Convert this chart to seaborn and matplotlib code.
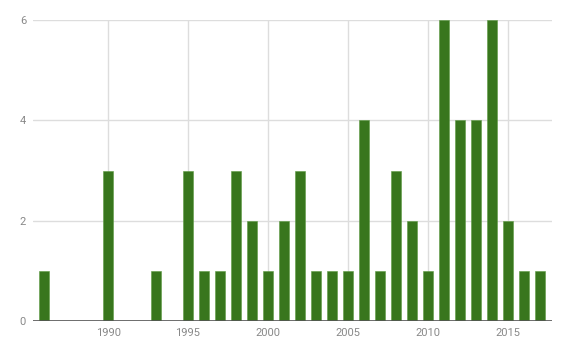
import pandas as pd
import numpy as np
import matplotlib.pyplot as plt
import seaborn as sns

years = list(range(1986, 2018))
counts = [1, 0, 0, 0, 3, 0, 0, 1, 0, 3, 1, 1, 3, 2, 1, 2,
          3, 1, 1, 1, 4, 1, 3, 2, 1, 6, 4, 4, 6, 2, 1, 1]
x_ticks = [1990, 1995, 2000, 2005, 2010, 2015]
y_ticks = [0, 2, 4, 6]

df = pd.DataFrame({'year': years, 'count': counts})

sns.set_style('white')
plt.rcParams['font.family'] = ['Roboto', 'DejaVu Sans']

fig = plt.figure(figsize=(5.71, 3.54), dpi=100)
ax = fig.add_axes([0.0578, 0.0932, 0.9089, 0.8503])

sns.barplot(data=df, x='year', y='count', native_scale=True, width=0.62,
            color='#38761d', saturation=1, edgecolor='#5d9a43', linewidth=0.4,
            ax=ax, zorder=3)

ax.set_xlim(1985.31, 2017.75)
ax.set_ylim(0, 6)
ax.set_xticks(x_ticks)
ax.set_xticklabels([str(t) for t in x_ticks])
ax.set_yticks(y_ticks)
ax.grid(True, color='#dddddd', linewidth=1, zorder=0)
ax.axhline(0, color='#555555', linewidth=1.2, zorder=4)
for s in ax.spines.values():
    s.set_visible(False)
ax.tick_params(length=0, labelsize=8, colors='#888888', pad=5)
ax.set_xlabel('')
ax.set_ylabel('')

fig.savefig('out.png', dpi=100)
